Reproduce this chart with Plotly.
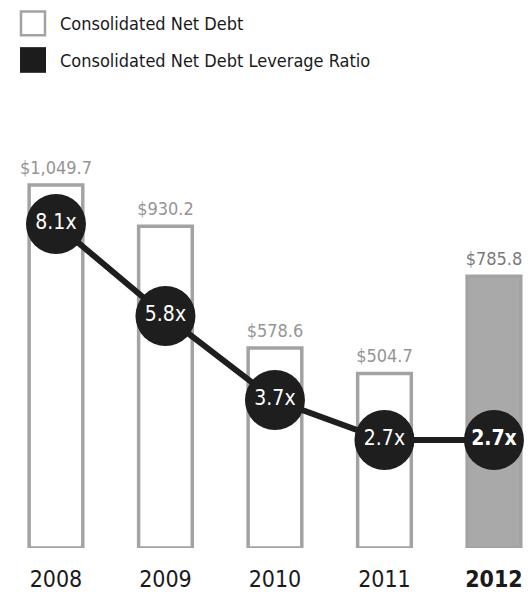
import plotly.graph_objects as go

years = ["2008", "2009", "2010", "2011", "2012"]
net_debt = [1049.7, 930.2, 578.6, 504.7, 785.8]
leverage = [8.1, 5.8, 3.7, 2.7, 2.7]
year_ticks = ["2008", "2009", "2010", "2011", "<b>2012</b>"]

FONT = "DejaVu Sans Condensed, Liberation Sans Narrow, sans-serif"
OUTLINE = "#a3a3a3"
DARK = "#1e1e1e"

bar_fill = ["white"] * 4 + ["#a9a9a9"]
label_color = ["#959595"] * 4 + ["#7a7a7a"]

# plot area spans pixel rows 140..553 of the 592-px page
TOP, BOT = 140, 553


def py(pixel_y):
    return (BOT - pixel_y) / (BOT - TOP)


fig = go.Figure()

fig.add_trace(go.Bar(
    x=years, y=net_debt, width=0.49,
    marker=dict(color=bar_fill, line=dict(color=OUTLINE, width=3.5)),
    hoverinfo="skip",
))

# Dollar labels just above each bar
fig.add_trace(go.Scatter(
    x=years, y=net_debt, mode="markers+text",
    marker=dict(size=9, opacity=0),
    text=[f"${v:,.1f}" for v in net_debt],
    textposition="top center",
    textfont=dict(family=FONT, size=18, color=label_color),
    cliponaxis=False, hoverinfo="skip",
))

ratio_text = [f"{v:.1f}x" for v in leverage]
ratio_text[-1] = f"<b>{ratio_text[-1]}</b>"

fig.add_trace(go.Scatter(
    x=years, y=leverage, yaxis="y2",
    mode="lines+markers+text",
    line=dict(color=DARK, width=6),
    marker=dict(size=60, color=DARK, line=dict(width=0)),
    text=ratio_text,
    textposition="middle center",
    textfont=dict(family=FONT, size=21, color="white"),
    cliponaxis=False,
    hoverinfo="skip",
))

# Legend swatches and labels
shapes = [
    dict(type="rect", xref="paper", yref="paper",
         x0=21 / 529, x1=45 / 529, y0=py(34), y1=py(10),
         line=dict(color=OUTLINE, width=2.5), fillcolor="white"),
    dict(type="rect", xref="paper", yref="paper",
         x0=20 / 529, x1=46 / 529, y0=py(72), y1=py(46),
         line=dict(width=0), fillcolor="#1c1c1c"),
]
annotations = [
    dict(text="Consolidated Net Debt", xref="paper", yref="paper",
         x=58 / 529, y=py(22), xanchor="left", yanchor="middle",
         showarrow=False, font=dict(family=FONT, size=18, color="#1a1a1a")),
    dict(text="Consolidated Net Debt Leverage Ratio", xref="paper", yref="paper",
         x=58 / 529, y=py(60), xanchor="left", yanchor="middle",
         showarrow=False, font=dict(family=FONT, size=18, color="#1a1a1a")),
]

fig.update_layout(
    width=529, height=592,
    margin=dict(l=0, r=0, t=TOP, b=592 - BOT),
    paper_bgcolor="white", plot_bgcolor="white",
    showlegend=False,
    shapes=shapes, annotations=annotations,
    xaxis=dict(type="category", range=[-0.511, 4.32],
               tickvals=years, ticktext=year_ticks,
               tickfont=dict(family=FONT, size=23, color="#1a1a1a"),
               ticklabelstandoff=15,
               showgrid=False, showline=False, zeroline=False, ticks=""),
    yaxis=dict(range=[0, 1180], visible=False),
    yaxis2=dict(range=[0, 10.2], overlaying="y", visible=False),
)

fig.write_html("out.html")
